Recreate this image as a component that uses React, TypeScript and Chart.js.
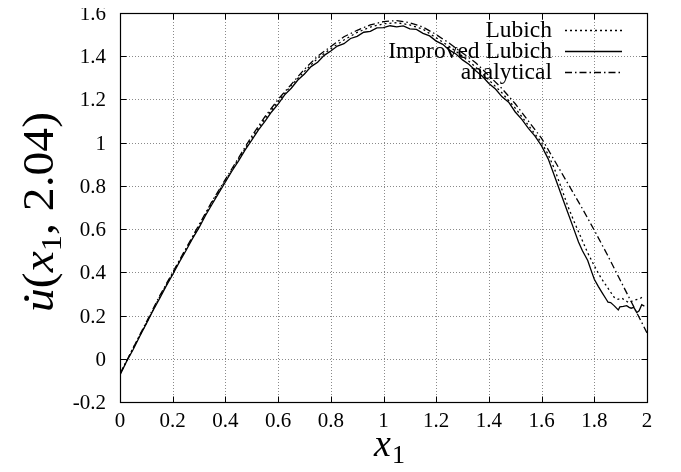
import React, { useEffect, useRef } from "react";
import { Chart, registerables } from "chart.js";

Chart.register(...registerables);

// ---- data ----
const xTicks = [0, 0.2, 0.4, 0.6, 0.8, 1, 1.2, 1.4, 1.6, 1.8, 2];
const yTicks = [-0.2, 0, 0.2, 0.4, 0.6, 0.8, 1, 1.2, 1.4, 1.6];

const seriesNames = ["Lubich", "Improved Lubich", "analytical"];

const lubichX = [
  0, 0.05, 0.1, 0.15, 0.2, 0.25, 0.3, 0.35, 0.4, 0.45, 0.5, 0.55, 0.6, 0.65, 0.7,
  0.75, 0.8, 0.85, 0.9, 0.95, 1.0, 1.05, 1.1, 1.15, 1.2, 1.25, 1.3, 1.35, 1.4,
  1.45, 1.5, 1.55, 1.6, 1.625, 1.65, 1.675, 1.7, 1.725, 1.75, 1.775, 1.8, 1.825,
  1.85, 1.875, 1.89, 1.905, 1.93, 1.955, 1.975, 1.99,
];
const lubichY = [
  -0.07, 0.05, 0.165, 0.285, 0.395, 0.505, 0.615, 0.725, 0.825, 0.925, 1.02, 1.11,
  1.19, 1.265, 1.33, 1.39, 1.435, 1.475, 1.51, 1.535, 1.55, 1.555, 1.545, 1.525,
  1.485, 1.445, 1.4, 1.35, 1.29, 1.23, 1.16, 1.08, 1.0, 0.945, 0.875, 0.79, 0.705,
  0.63, 0.56, 0.49, 0.43, 0.375, 0.33, 0.285, 0.275, 0.28, 0.26, 0.272, 0.28, 0.29,
];

const improvedX = [
  0, 0.025, 0.05, 0.075, 0.1, 0.125, 0.15, 0.175, 0.2, 0.225, 0.25, 0.275, 0.3,
  0.325, 0.35, 0.375, 0.4, 0.425, 0.45, 0.475, 0.5, 0.525, 0.55, 0.575, 0.6, 0.625,
  0.65, 0.675, 0.7, 0.725, 0.75, 0.775, 0.8, 0.825, 0.85, 0.875, 0.9, 0.925, 0.95,
  0.975, 1.0, 1.025, 1.05, 1.075, 1.1, 1.125, 1.15, 1.175, 1.2, 1.225, 1.25, 1.275,
  1.3, 1.325, 1.35, 1.375, 1.4, 1.425, 1.45, 1.475, 1.5, 1.525, 1.55, 1.575, 1.6,
  1.625, 1.65, 1.675, 1.7, 1.72, 1.74, 1.755, 1.775, 1.79, 1.8, 1.815, 1.83, 1.847,
  1.852, 1.862, 1.875, 1.891, 1.897, 1.91, 1.923, 1.932, 1.94, 1.95, 1.961, 1.97,
  1.98, 1.99,
];
const improvedY = [
  -0.075, -0.012, 0.043, 0.104, 0.162, 0.222, 0.278, 0.336, 0.39, 0.447, 0.5, 0.556,
  0.607, 0.664, 0.716, 0.768, 0.818, 0.869, 0.916, 0.967, 1.012, 1.058, 1.098, 1.142,
  1.178, 1.221, 1.252, 1.29, 1.318, 1.352, 1.372, 1.404, 1.424, 1.447, 1.458, 1.482,
  1.492, 1.511, 1.515, 1.531, 1.532, 1.541, 1.536, 1.54, 1.527, 1.524, 1.506, 1.494,
  1.47, 1.455, 1.428, 1.41, 1.383, 1.362, 1.333, 1.307, 1.274, 1.248, 1.212, 1.187,
  1.142, 1.108, 1.066, 1.03, 0.985, 0.925, 0.842, 0.758, 0.675, 0.608, 0.54, 0.5,
  0.455, 0.402, 0.368, 0.335, 0.305, 0.272, 0.262, 0.26, 0.246, 0.226, 0.24, 0.242,
  0.246, 0.238, 0.234, 0.238, 0.214, 0.222, 0.25, 0.244,
];

const analyticalX = [
  0, 0.05, 0.1, 0.15, 0.2, 0.25, 0.3, 0.35, 0.4, 0.45, 0.5, 0.55, 0.6, 0.65, 0.7,
  0.75, 0.8, 0.85, 0.9, 0.95, 1.0, 1.05, 1.1, 1.15, 1.2, 1.25, 1.3, 1.35, 1.4,
  1.45, 1.5, 1.55, 1.6, 1.65, 1.7, 1.75, 1.8, 1.85, 1.9, 1.95, 2.0,
];
const analyticalY = [
  -0.07, 0.05, 0.17, 0.29, 0.4, 0.51, 0.62, 0.73, 0.83, 0.93, 1.03, 1.12, 1.2, 1.27,
  1.34, 1.4, 1.445, 1.49, 1.52, 1.545, 1.56, 1.565, 1.555, 1.535, 1.5, 1.46, 1.415,
  1.37, 1.31, 1.25, 1.18, 1.1, 1.02, 0.915, 0.81, 0.705, 0.595, 0.48, 0.36, 0.24, 0.12,
];

const dashes: number[][] = [[2, 3], [], [7, 3, 1.5, 3]];

const SERIF = "'Liberation Serif', 'Times New Roman', serif";
const W = 681;
const H = 472;

function fmt(v: number) {
  return String(parseFloat(Number(v).toFixed(1)));
}

const overlay = {
  id: "overlay",
  beforeDatasetsDraw(chart: any) {
    const { ctx, chartArea: a, scales } = chart;
    ctx.save();
    ctx.strokeStyle = "#8a8a8a";
    ctx.lineWidth = 1;
    ctx.setLineDash([1, 2]);
    for (const v of xTicks) {
      const px = Math.round(scales.x.getPixelForValue(v)) + 0.5;
      if (px < a.left + 2 || px > a.right - 2) continue;
      ctx.beginPath();
      ctx.moveTo(px, a.top);
      ctx.lineTo(px, a.bottom);
      ctx.stroke();
    }
    for (const v of yTicks) {
      const py = Math.round(scales.y.getPixelForValue(v)) + 0.5;
      if (py < a.top + 2 || py > a.bottom - 2) continue;
      ctx.beginPath();
      ctx.moveTo(a.left, py);
      ctx.lineTo(a.right, py);
      ctx.stroke();
    }
    ctx.restore();
  },
  afterDraw(chart: any) {
    const { ctx, chartArea: a, scales } = chart;
    ctx.save();
    ctx.setLineDash([]);
    ctx.strokeStyle = "#000";
    ctx.lineWidth = 1.2;
    const L = Math.round(a.left) + 0.5;
    const R = Math.round(a.right) + 0.5;
    const T = Math.round(a.top) + 0.5;
    const B = Math.round(a.bottom) + 0.5;
    ctx.strokeRect(L, T, R - L, B - T);
    const tl = 6;
    ctx.lineWidth = 1;
    ctx.beginPath();
    for (const v of xTicks) {
      const px = Math.round(scales.x.getPixelForValue(v)) + 0.5;
      ctx.moveTo(px, B);
      ctx.lineTo(px, B - tl);
      ctx.moveTo(px, T);
      ctx.lineTo(px, T + tl);
    }
    for (const v of yTicks) {
      const py = Math.round(scales.y.getPixelForValue(v)) + 0.5;
      ctx.moveTo(L, py);
      ctx.lineTo(L + tl, py);
      ctx.moveTo(R, py);
      ctx.lineTo(R - tl, py);
    }
    ctx.stroke();

    // y tick labels
    ctx.fillStyle = "#000";
    ctx.font = `21px ${SERIF}`;
    ctx.textAlign = "right";
    ctx.textBaseline = "alphabetic";
    for (const v of yTicks) {
      const py = scales.y.getPixelForValue(v);
      ctx.fillText(fmt(v), a.left - 14, py + 7);
    }

    // legend
    ctx.font = `23.5px ${SERIF}`;
    ctx.textAlign = "right";
    ctx.textBaseline = "middle";
    const rows = [30, 51, 72];
    seriesNames.forEach((name, i) => {
      const y = rows[i];
      ctx.fillText(name, 552, y + 1);
      ctx.beginPath();
      ctx.setLineDash(dashes[i]);
      ctx.lineWidth = 1.3;
      ctx.moveTo(565, y + 0.5);
      ctx.lineTo(622, y + 0.5);
      ctx.stroke();
    });
    ctx.setLineDash([]);

    // y title (rotated) : u̇(x1, 2.04)
    const fs = 44;
    const parts = [
      { t: "u", f: `italic ${fs}px ${SERIF}`, dy: 0 },
      { t: "(", f: `${fs}px ${SERIF}`, dy: 0 },
      { t: "x", f: `italic ${fs}px ${SERIF}`, dy: 0 },
      { t: "1", f: `${Math.round(fs * 0.68)}px ${SERIF}`, dy: fs * 0.18 },
      { t: ", 2.04)", f: `${fs}px ${SERIF}`, dy: 0 },
    ];
    let total = 0;
    const widths = parts.map((p) => {
      ctx.font = p.f;
      const w = ctx.measureText(p.t).width;
      total += w;
      return w;
    });
    const target = 200;
    const sx = target / total;
    ctx.save();
    ctx.translate(53, 212);
    ctx.rotate(-Math.PI / 2);
    ctx.scale(sx, 1);
    ctx.textAlign = "left";
    ctx.textBaseline = "alphabetic";
    let cx = -total / 2;
    parts.forEach((p, i) => {
      ctx.font = p.f;
      ctx.fillText(p.t, cx, p.dy);
      if (i === 0) {
        ctx.beginPath();
        ctx.arc(cx + widths[0] * 0.58, -fs * 0.6, 2.4, 0, Math.PI * 2);
        ctx.fill();
      }
      cx += widths[i];
    });
    ctx.restore();

    // x title : x1
    ctx.textAlign = "left";
    ctx.textBaseline = "alphabetic";
    ctx.font = `italic 38px ${SERIF}`;
    const wx = ctx.measureText("x").width;
    ctx.font = `26px ${SERIF}`;
    const w1 = ctx.measureText("1").width;
    const startX = 389 - (wx + w1) / 2;
    ctx.font = `italic 38px ${SERIF}`;
    ctx.fillText("x", startX, 456);
    ctx.font = `26px ${SERIF}`;
    ctx.fillText("1", startX + wx + 1, 463);
    ctx.restore();
  },
};

export default function App() {
  const ref = useRef<HTMLCanvasElement | null>(null);
  useEffect(() => {
    if (!ref.current) return;
    const mk = (xs: number[], ys: number[]) => xs.map((x, i) => ({ x, y: ys[i] }));
    const datas = [mk(lubichX, lubichY), mk(improvedX, improvedY), mk(analyticalX, analyticalY)];
    const chart = new Chart(ref.current, {
      type: "scatter",
      data: {
        datasets: seriesNames.map((name, i) => ({
          label: name,
          data: datas[i],
          showLine: true,
          borderColor: "#000",
          backgroundColor: "#000",
          borderWidth: 1.3,
          borderDash: dashes[i],
          pointRadius: 0,
          tension: 0,
        })),
      },
      options: {
        animation: false,
        responsive: false,
        devicePixelRatio: 1,
        layout: { padding: { left: 0, right: 34, top: 13, bottom: 0 } },
        plugins: { legend: { display: false }, tooltip: { enabled: false } },
        scales: {
          x: {
            type: "linear",
            min: 0,
            max: 2,
            grid: { display: false, drawTicks: false },
            border: { display: false },
            afterBuildTicks: (s: any) => {
              s.ticks = xTicks.map((v) => ({ value: v }));
            },
            afterFit: (s: any) => {
              s.height = 70;
              s.paddingLeft = 0;
              s.paddingRight = 0;
            },
            ticks: {
              color: "#000",
              font: { family: SERIF, size: 21 },
              padding: 7,
              maxRotation: 0,
              autoSkip: false,
              callback: (v: any) => fmt(v),
            },
          },
          y: {
            type: "linear",
            min: -0.2,
            max: 1.6,
            grid: { display: false, drawTicks: false },
            border: { display: false },
            afterBuildTicks: (s: any) => {
              s.ticks = yTicks.map((v) => ({ value: v }));
            },
            afterFit: (s: any) => {
              s.width = 120;
              s.paddingTop = 0;
              s.paddingBottom = 0;
            },
            ticks: { display: false },
          },
        },
      },
      plugins: [overlay],
    });
    return () => chart.destroy();
  }, []);
  return (
    <div style={{ width: W, height: H, margin: -8, overflow: "hidden" }}>
      <canvas ref={ref} width={W} height={H} style={{ display: "block" }} />
    </div>
  );
}
